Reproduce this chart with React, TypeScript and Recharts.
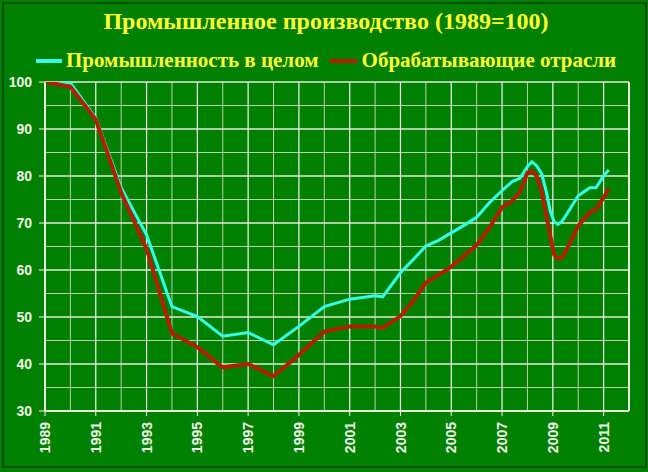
import React from "react";
import { LineChart, Line, XAxis, YAxis, CartesianGrid, ReferenceLine } from "recharts";

// x positions (years, fractional after 2002)
const years = [
  1989, 1990, 1991, 1992, 1993, 1994, 1995, 1996, 1997, 1998, 1999, 2000, 2001, 2002,
  2002.3, 2003, 2003.5, 2004, 2004.5, 2004.75, 2005, 2005.5, 2006, 2006.5, 2007, 2007.4, 2007.7,
  2008, 2008.17, 2008.36, 2008.56, 2008.75, 2008.9, 2009.05, 2009.2, 2009.35, 2009.55, 2010, 2010.45, 2010.7,
  2011, 2011.2,
];

const industryTotal = [
  100, 99.8, 92.3, 77.5, 67.5, 52.2, 50.1, 45.9, 46.7, 44.1, 48.0, 52.2, 53.8, 54.5,
  54.3, 59.4, 62.2, 65.1, 66.3, 67.1, 67.9, 69.5, 71.2, 74.3, 76.9, 78.8, 79.5,
  82.0, 83.0, 82.2, 80.5, 76.5, 72.5, 70.3, 69.7, 70.3, 71.9, 75.8, 77.5, 77.5,
  80.0, 81.3,
];

const manufacturing = [
  100, 99.0, 92.0, 76.5, 64.5, 46.5, 43.6, 39.3, 40.0, 37.4, 41.9, 46.9, 48.0, 48.0,
  47.7, 50.2, 53.4, 57.3, 59.0, 59.8, 60.7, 63.0, 65.3, 69.0, 73.3, 74.7, 76.5,
  80.7, 81.1, 80.0, 76.8, 71.5, 67.2, 63.3, 62.4, 62.6, 64.4, 69.4, 72.2, 72.9,
  75.4, 77.3,
];

const labelYears = [1989, 1991, 1993, 1995, 1997, 1999, 2001, 2003, 2005, 2007, 2009, 2011];
const allYears = [
  1989, 1990, 1991, 1992, 1993, 1994, 1995, 1996, 1997, 1998, 1999, 2000, 2001, 2002,
  2003, 2004, 2005, 2006, 2007, 2008, 2009, 2010, 2011, 2012,
];
const majorValues = [30, 40, 50, 60, 70, 80, 90, 100];
const minorValues = [30, 35, 40, 45, 50, 55, 60, 65, 70, 75, 80, 85, 90, 95, 100];

const data = years.map((year, i) => ({
  year,
  total: industryTotal[i],
  manuf: manufacturing[i],
}));

const BG = "#008000";
const TEXT = "#eef5e6";
const YELLOW = "#ffff33";
const CYAN = "#33ffe8";
const RED = "#b22000";

const YearTick = (props: any) => {
  const { x, y, payload } = props;
  return (
    <g transform={`translate(${x},${y + 4}) rotate(-90)`}>
      <text
        x={0}
        y={0}
        dy="0.36em"
        textAnchor="end"
        fill={TEXT}
        fontSize={14}
        fontWeight="bold"
        fontFamily="Liberation Sans, Arial, sans-serif"
      >
        {payload.value}
      </text>
    </g>
  );
};

export default function App() {
  return (
    <div
      style={{
        position: "absolute",
        left: 0,
        top: 0,
        width: 648,
        height: 472,
        background: BG,
        overflow: "hidden",
      }}
    >
      <div
        style={{
          position: "absolute",
          left: 2,
          top: 2,
          width: 641,
          height: 462,
          border: "2px solid #005200",
        }}
      />
      <div
        style={{
          position: "absolute",
          left: 0,
          top: 8,
          width: 652,
          textAlign: "center",
          color: YELLOW,
          fontFamily: "Liberation Serif, Times New Roman, serif",
          fontSize: 24,
          fontWeight: "bold",
        }}
      >
        Промышленное производство (1989=100)
      </div>
      <div
        style={{
          position: "absolute",
          left: 36,
          top: 48,
          display: "flex",
          alignItems: "center",
          color: YELLOW,
          fontFamily: "Liberation Serif, Times New Roman, serif",
          fontSize: 21,
          fontWeight: "bold",
          whiteSpace: "nowrap",
        }}
      >
        <span style={{ display: "inline-block", width: 26, height: 4, background: CYAN, marginRight: 4 }} />
        <span>Промышленность в целом</span>
        <span style={{ display: "inline-block", width: 27, height: 4, background: RED, marginLeft: 11, marginRight: 5 }} />
        <span>Обрабатывающие отрасли</span>
      </div>
      <div style={{ position: "absolute", left: 0, top: 0 }}>
        <LineChart width={648} height={472} data={data} margin={{ top: 82, right: 19, bottom: 0, left: 0 }}>
          <XAxis
            xAxisId="minor"
            dataKey="year"
            type="number"
            domain={[1989, 2012]}
            ticks={allYears}
            allowDataOverflow
            hide
          />
          <YAxis
            yAxisId="minor"
            type="number"
            domain={[30, 100]}
            ticks={minorValues}
            allowDataOverflow
            hide
          />
          <CartesianGrid xAxisId="minor" yAxisId="minor" stroke="#b9d3a6" strokeWidth={1} />
          <XAxis
            xAxisId="main"
            dataKey="year"
            type="number"
            domain={[1989, 2012]}
            ticks={labelYears}
            allowDataOverflow
            height={61}
            interval={0}
            tick={<YearTick />}
            tickSize={5}
            tickMargin={2}
            stroke="#f4f8ee"
            axisLine={{ stroke: "#f4f8ee", strokeWidth: 1.5 }}
          />
          <YAxis
            yAxisId="main"
            type="number"
            domain={[30, 100]}
            ticks={majorValues}
            allowDataOverflow
            width={45}
            interval={0}
            tickSize={6}
            tickMargin={7}
            stroke="#f4f8ee"
            axisLine={{ stroke: "#f4f8ee", strokeWidth: 1.5 }}
            tick={{
              fill: TEXT,
              fontSize: 14,
              fontWeight: "bold",
              fontFamily: "Liberation Sans, Arial, sans-serif",
            }}
          />
          <CartesianGrid xAxisId="main" yAxisId="main" stroke="#f4f8ee" strokeWidth={1.2} />
          <ReferenceLine xAxisId="main" yAxisId="main" x={2012} stroke="#f4f8ee" strokeWidth={1.5} />
          <Line
            xAxisId="main"
            yAxisId="main"
            type="linear"
            dataKey="total"
            stroke={CYAN}
            strokeWidth={3}
            dot={false}
            isAnimationActive={false}
          />
          <Line
            xAxisId="main"
            yAxisId="main"
            type="linear"
            dataKey="manuf"
            stroke={RED}
            strokeWidth={4}
            dot={false}
            isAnimationActive={false}
          />
        </LineChart>
      </div>
    </div>
  );
}
